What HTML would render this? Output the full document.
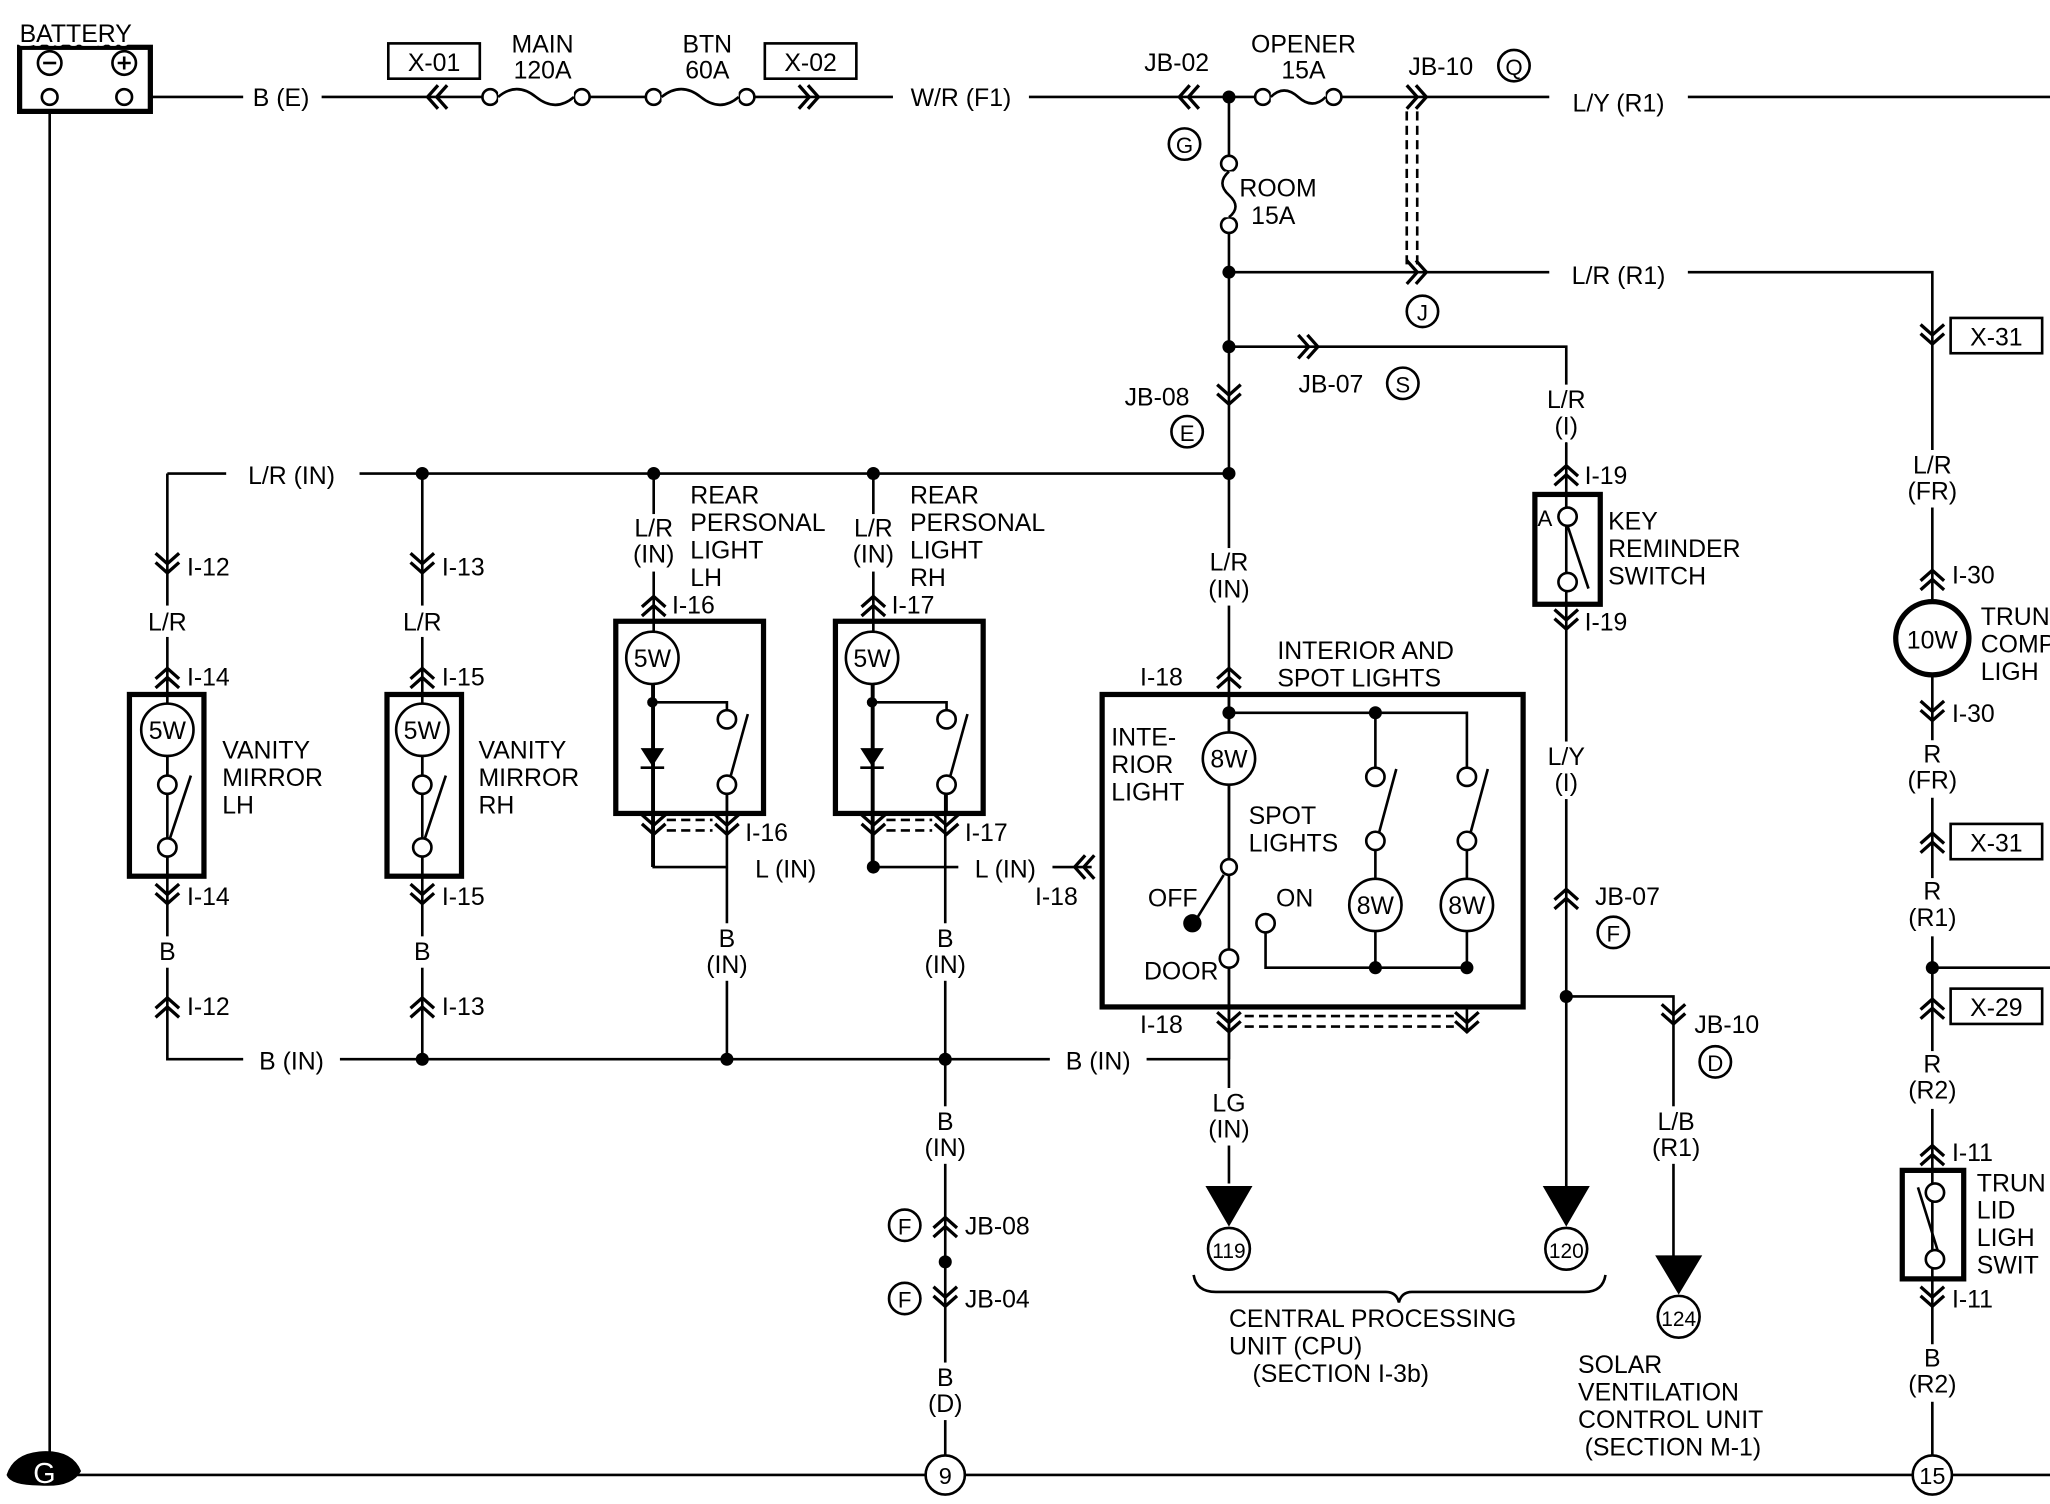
<!DOCTYPE html>
<html><head><meta charset="utf-8"><style>
html,body{margin:0;padding:0;background:#fff;}
svg{display:block;}
text{font-family:"Liberation Sans",sans-serif;font-size:19px;fill:#000;paint-order:stroke;stroke:#fff;stroke-width:6px;stroke-linejoin:round;}
.w{stroke:#000;stroke-width:2;fill:none;}
.t{stroke:#000;stroke-width:4;fill:none;}
.c{stroke:#000;stroke-width:2;fill:#fff;}
.d{fill:#000;}
.m{text-anchor:middle;}
.b{fill:#fff;stroke:none;}
</style></head><body>
<svg width="2050" height="1504" viewBox="0 0 1568 1150" xmlns="http://www.w3.org/2000/svg">
<defs>
<path id="cu" d="M-9 2 L0 -6 L9 2 M-9 9 L0 1 L9 9" stroke="#000" stroke-width="2.5" fill="none"/>
<path id="cd" d="M-9 -2 L0 6 L9 -2 M-9 -9 L0 -1 L9 -9" stroke="#000" stroke-width="2.5" fill="none"/>
<path id="cl" d="M2 -9 L-6 0 L2 9 M9 -9 L1 0 L9 9" stroke="#000" stroke-width="2.5" fill="none"/>
<path id="cr" d="M-2 -9 L6 0 L-2 9 M-9 -9 L-1 0 L-9 9" stroke="#000" stroke-width="2.5" fill="none"/>
</defs>

<!-- wires -->
<path class="w" d="M115 74 H1568"/>
<path class="w" d="M38 85 V1128 H1568"/>
<path class="w" d="M940 74 V810"/>
<path class="w" d="M940 208 H1478 V1128"/>
<path class="w" d="M1478 740 H1568"/>
<path class="w" d="M940 265 H1198 V920"/>
<path class="w" d="M1198 762 H1280 V975"/>
<path class="w" d="M128 362 H940"/>
<path class="w" d="M128 362 V810 H940"/>
<path class="w" d="M323 362 V810"/>
<path class="w" d="M500 362 V663 H556"/>
<path class="w" d="M556 600 V810"/>
<path class="w" d="M668 362 V663 H835"/>
<path class="w" d="M723 600 V1128"/>
<path class="w" d="M940 770 V905"/>
<path class="w" d="M1122 770 V790"/>
<!-- label background gaps -->
<rect class="b" x="186" y="64" width="60" height="20"/>
<rect class="b" x="683" y="64" width="104" height="20"/>
<rect class="b" x="1185" y="64" width="106" height="20"/>
<rect class="b" x="1185" y="198" width="106" height="20"/>
<rect class="b" x="173" y="352" width="102" height="20"/>
<rect class="b" x="186" y="800" width="74" height="20"/>
<rect class="b" x="803" y="800" width="74" height="20"/>
<rect class="b" x="733" y="653" width="72" height="20"/>
<rect class="b" x="112" y="463" width="32" height="24"/>
<rect class="b" x="307" y="463" width="32" height="24"/>
<rect class="b" x="118" y="716" width="20" height="24"/>
<rect class="b" x="313" y="716" width="20" height="24"/>
<rect class="b" x="480" y="393" width="40" height="44"/>
<rect class="b" x="648" y="393" width="40" height="44"/>
<rect class="b" x="536" y="706" width="40" height="44"/>
<rect class="b" x="703" y="706" width="40" height="44"/>
<rect class="b" x="703" y="846" width="40" height="44"/>
<rect class="b" x="703" y="1042" width="40" height="44"/>
<rect class="b" x="920" y="419" width="40" height="44"/>
<rect class="b" x="920" y="832" width="40" height="44"/>
<rect class="b" x="1178" y="294" width="40" height="44"/>
<rect class="b" x="1178" y="567" width="40" height="44"/>
<rect class="b" x="1260" y="846" width="44" height="44"/>
<rect class="b" x="1456" y="344" width="44" height="44"/>
<rect class="b" x="1456" y="566" width="44" height="44"/>
<rect class="b" x="1456" y="672" width="44" height="44"/>
<rect class="b" x="1456" y="804" width="44" height="44"/>
<rect class="b" x="1456" y="1028" width="44" height="44"/>
<!-- dashed -->
<path d="M1076 85 V205 M1084 85 V205" stroke="#000" stroke-width="2" stroke-dasharray="7 4"/>
<path d="M510 627 H545 M510 635 H545 M678 627 H713 M678 635 H713 M952 777 H1112 M952 785 H1112" stroke="#000" stroke-width="2" stroke-dasharray="7 4"/>

<!-- battery -->
<rect x="15" y="36" width="100" height="49" class="t" fill="#fff"/>
<circle cx="38" cy="48" r="9" class="c"/><path class="w" d="M33 48 H43"/>
<circle cx="95" cy="48" r="9" class="c"/><path class="w" d="M90 48 H100 M95 43 V53"/>
<circle cx="38" cy="74" r="6" class="c"/><circle cx="95" cy="74" r="6" class="c"/>
<text x="15" y="32">BATTERY</text>
<!-- ground -->
<path d="M5 1128 Q10 1112 30 1110 Q55 1108 62 1125 Q55 1138 30 1136 Q8 1136 5 1128Z" fill="#000"/>
<text x="34" y="1134" class="m" style="fill:#fff;stroke:none;font-size:22px">G</text>

<!-- top row -->
<text x="215" y="81" class="m">B (E)</text>
<rect x="297" y="33" width="70" height="27" class="c"/><text x="332" y="54" class="m" style="stroke:none">X-01</text>
<use href="#cl" x="333" y="74"/>
<circle cx="375" cy="74" r="6" class="c"/><circle cx="445" cy="74" r="6" class="c"/>
<path d="M381 68 H439 V80 H381Z" fill="#fff"/>
<path class="w" d="M381 74 Q395 62 410 74 Q425 86 439 74"/>
<text x="415" y="40" class="m">MAIN</text><text x="415" y="60" class="m">120A</text>
<circle cx="500" cy="74" r="6" class="c"/><circle cx="571" cy="74" r="6" class="c"/>
<path d="M506 68 H565 V80 H506Z" fill="#fff"/>
<path class="w" d="M506 74 Q521 62 536 74 Q551 86 565 74"/>
<text x="541" y="40" class="m">BTN</text><text x="541" y="60" class="m">60A</text>
<rect x="585" y="33" width="70" height="27" class="c"/><text x="620" y="54" class="m" style="stroke:none">X-02</text>
<use href="#cr" x="620" y="74"/>
<text x="735" y="81" class="m">W/R (F1)</text>
<text x="900" y="54" class="m">JB-02</text>
<use href="#cl" x="908" y="74"/>
<circle cx="906" cy="110" r="12" class="c"/><text x="906" y="117" class="m" style="stroke:none;font-size:17px">G</text>
<circle cx="940" cy="74" r="5" class="d"/>
<circle cx="966" cy="74" r="6" class="c"/><circle cx="1020" cy="74" r="6" class="c"/>
<path d="M972 68 H1014 V80 H972Z" fill="#fff"/>
<path class="w" d="M972 74 Q982 64 993 74 Q1004 84 1014 74"/>
<text x="997" y="40" class="m">OPENER</text><text x="997" y="60" class="m">15A</text>
<text x="1102" y="57" class="m">JB-10</text>
<circle cx="1158" cy="50" r="12" class="c"/><text x="1158" y="57" class="m" style="stroke:none;font-size:17px">Q</text>
<use href="#cr" x="1085" y="74"/>
<text x="1238" y="85" class="m">L/Y (R1)</text>
<!-- ROOM fuse -->
<circle cx="940" cy="125" r="6" class="c"/><circle cx="940" cy="172" r="6" class="c"/>
<path d="M934 131 H946 V166 H934Z" fill="#fff"/>
<path class="w" d="M940 131 Q930 140 940 149 Q950 158 940 166"/>
<text x="948" y="150">ROOM</text><text x="957" y="171">15A</text>
<circle cx="940" cy="208" r="5" class="d"/>
<use href="#cr" x="1085" y="208"/>
<text x="1238" y="217" class="m">L/R (R1)</text>
<circle cx="1088" cy="238" r="12" class="c"/><text x="1088" y="245" class="m" style="stroke:none;font-size:17px">J</text>
<circle cx="940" cy="265" r="5" class="d"/>
<use href="#cr" x="1002" y="265"/>
<text x="1018" y="300" class="m">JB-07</text>
<circle cx="1073" cy="293" r="12" class="c"/><text x="1073" y="300" class="m" style="stroke:none;font-size:17px">S</text>
<text x="885" y="310" class="m">JB-08</text>
<use href="#cd" x="940" y="303"/>
<circle cx="908" cy="330" r="12" class="c"/><text x="908" y="337" class="m" style="stroke:none;font-size:17px">E</text>

<!-- right column -->
<use href="#cd" x="1478" y="257"/>
<rect x="1492" y="243" width="70" height="27" class="c"/><text x="1527" y="264" class="m" style="stroke:none">X-31</text>
<text x="1478" y="362" class="m">L/R</text><text x="1478" y="382" class="m">(FR)</text>
<use href="#cu" x="1478" y="442"/><text x="1493" y="446">I-30</text>
<circle cx="1478" cy="488" r="28" class="c" style="stroke-width:4"/><text x="1478" y="496" class="m" style="stroke:none">10W</text>
<text x="1515" y="478">TRUN</text><text x="1515" y="499">COMP</text><text x="1515" y="520">LIGH</text>
<use href="#cd" x="1478" y="545"/><text x="1493" y="552">I-30</text>
<text x="1478" y="583" class="m">R</text><text x="1478" y="603" class="m">(FR)</text>
<use href="#cu" x="1478" y="643"/>
<rect x="1492" y="630" width="70" height="27" class="c"/><text x="1527" y="651" class="m" style="stroke:none">X-31</text>
<text x="1478" y="688" class="m">R</text><text x="1478" y="708" class="m">(R1)</text>
<circle cx="1478" cy="740" r="5" class="d"/>
<use href="#cu" x="1478" y="770"/>
<rect x="1492" y="756" width="70" height="27" class="c"/><text x="1527" y="777" class="m" style="stroke:none">X-29</text>
<text x="1478" y="820" class="m">R</text><text x="1478" y="840" class="m">(R2)</text>
<use href="#cu" x="1478" y="882"/><text x="1493" y="888">I-11</text>
<rect x="1455" y="895" width="47" height="83" class="t" fill="#fff"/>
<circle cx="1480" cy="912" r="7" class="c"/><circle cx="1480" cy="963" r="7" class="c"/>
<path class="w" d="M1467 908 L1482 956"/>
<text x="1512" y="911">TRUN</text><text x="1512" y="932">LID</text><text x="1512" y="953">LIGH</text><text x="1512" y="974">SWIT</text>
<use href="#cd" x="1478" y="993"/><text x="1493" y="1000">I-11</text>
<text x="1478" y="1045" class="m">B</text><text x="1478" y="1065" class="m">(R2)</text>
<circle cx="1478" cy="1128" r="15" class="c"/><text x="1478" y="1135" class="m" style="stroke:none;font-size:18px">15</text>

<!-- key reminder -->
<text x="1198" y="312" class="m">L/R</text><text x="1198" y="332" class="m">(I)</text>
<use href="#cu" x="1198" y="362"/><text x="1212" y="370">I-19</text>
<rect x="1174" y="378" width="50" height="84" class="t" fill="#fff"/>
<circle cx="1199" cy="395" r="7" class="c"/><circle cx="1199" cy="445" r="7" class="c"/>
<path class="w" d="M1199 402 L1215 450"/>
<text x="1176" y="402" style="stroke:none;font-size:17px">A</text>
<text x="1230" y="405">KEY</text><text x="1230" y="426">REMINDER</text><text x="1230" y="447">SWITCH</text>
<use href="#cd" x="1198" y="475"/><text x="1212" y="482">I-19</text>
<text x="1198" y="585" class="m">L/Y</text><text x="1198" y="605" class="m">(I)</text>
<use href="#cu" x="1198" y="686"/><text x="1220" y="692">JB-07</text>
<circle cx="1234" cy="713" r="12" class="c"/><text x="1234" y="720" class="m" style="stroke:none;font-size:17px">F</text>
<circle cx="1198" cy="762" r="5" class="d"/>
<use href="#cd" x="1280" y="777"/><text x="1296" y="790">JB-10</text>
<circle cx="1312" cy="812" r="12" class="c"/><text x="1312" y="819" class="m" style="stroke:none;font-size:17px">D</text>
<text x="1282" y="864" class="m">L/B</text><text x="1282" y="884" class="m">(R1)</text>
<path d="M1180 907 H1216 L1198 938Z" class="d"/>
<circle cx="1198" cy="955" r="16" class="c"/><text x="1198" y="962" class="m" style="stroke:none;font-size:16px">120</text>
<path d="M1266 960 H1302 L1284 990Z" class="d"/>
<circle cx="1284" cy="1007" r="16" class="c"/><text x="1284" y="1014" class="m" style="stroke:none;font-size:16px">124</text>
<text x="1207" y="1050">SOLAR</text><text x="1207" y="1071">VENTILATION</text><text x="1207" y="1092">CONTROL  UNIT</text><text x="1212" y="1113">(SECTION  M-1)</text>

<!-- L/R (IN) bus -->
<text x="223" y="370" class="m">L/R (IN)</text>
<circle cx="323" cy="362" r="5" class="d"/><circle cx="500" cy="362" r="5" class="d"/><circle cx="668" cy="362" r="5" class="d"/><circle cx="940" cy="362" r="5" class="d"/>

<!-- vanity LH -->
<use href="#cd" x="128" y="432"/><text x="143" y="440">I-12</text>
<text x="128" y="482" class="m">L/R</text>
<use href="#cu" x="128" y="517"/><text x="143" y="524">I-14</text>
<rect x="99" y="531" width="57" height="139" class="t" fill="#fff"/>
<path class="w" d="M128 578 V593 M128 655 V670"/>
<circle cx="128" cy="558" r="20" class="c"/><text x="128" y="565" class="m" style="stroke:none">5W</text>
<circle cx="128" cy="600" r="7" class="c"/><circle cx="128" cy="648" r="7" class="c"/>
<path class="w" d="M146 593 L130 641"/>
<text x="170" y="580">VANITY</text><text x="170" y="601">MIRROR</text><text x="170" y="622">LH</text>
<use href="#cd" x="128" y="685"/><text x="143" y="692">I-14</text>
<text x="128" y="734" class="m">B</text>
<use href="#cu" x="128" y="769"/><text x="143" y="776">I-12</text>
<text x="223" y="818" class="m">B (IN)</text>
<!-- vanity RH -->
<use href="#cd" x="323" y="432"/><text x="338" y="440">I-13</text>
<text x="323" y="482" class="m">L/R</text>
<use href="#cu" x="323" y="517"/><text x="338" y="524">I-15</text>
<rect x="296" y="531" width="57" height="139" class="t" fill="#fff"/>
<path class="w" d="M323 578 V593 M323 655 V670"/>
<circle cx="323" cy="558" r="20" class="c"/><text x="323" y="565" class="m" style="stroke:none">5W</text>
<circle cx="323" cy="600" r="7" class="c"/><circle cx="323" cy="648" r="7" class="c"/>
<path class="w" d="M341 593 L325 641"/>
<text x="366" y="580">VANITY</text><text x="366" y="601">MIRROR</text><text x="366" y="622">RH</text>
<use href="#cd" x="323" y="685"/><text x="338" y="692">I-15</text>
<text x="323" y="734" class="m">B</text>
<use href="#cu" x="323" y="769"/><text x="338" y="776">I-13</text>
<circle cx="323" cy="810" r="5" class="d"/>

<!-- rear LH -->
<text x="500" y="410" class="m">L/R</text><text x="500" y="430" class="m">(IN)</text>
<text x="528" y="385">REAR</text><text x="528" y="406">PERSONAL</text><text x="528" y="427">LIGHT</text><text x="528" y="448">LH</text>
<use href="#cu" x="500" y="462"/><text x="514" y="469">I-16</text>
<rect x="471" y="475" width="113" height="147" class="t" fill="#fff"/>
<path class="w" d="M499 523 V663 M499 537 H556 V543 M556 607 V622"/>
<circle cx="499" cy="503" r="20" class="c"/><text x="499" y="510" class="m" style="stroke:none">5W</text>
<circle cx="499" cy="537" r="4" class="d"/>
<path d="M490 572 H508 L499 586Z" class="d"/><path class="w" d="M490 587 H508"/>
<circle cx="556" cy="550" r="7" class="c"/><circle cx="556" cy="600" r="7" class="c"/>
<path class="w" d="M572 546 L559 593"/>
<use href="#cd" x="500" y="632"/><use href="#cd" x="556" y="632"/><text x="570" y="643">I-16</text>
<text x="601" y="671" class="m">L (IN)</text>
<text x="556" y="724" class="m">B</text><text x="556" y="744" class="m">(IN)</text>
<circle cx="556" cy="810" r="5" class="d"/>
<!-- rear RH -->
<text x="668" y="410" class="m">L/R</text><text x="668" y="430" class="m">(IN)</text>
<text x="696" y="385">REAR</text><text x="696" y="406">PERSONAL</text><text x="696" y="427">LIGHT</text><text x="696" y="448">RH</text>
<use href="#cu" x="668" y="462"/><text x="682" y="469">I-17</text>
<rect x="639" y="475" width="113" height="147" class="t" fill="#fff"/>
<path class="w" d="M667 523 V663 M667 537 H724 V543 M724 607 V622"/>
<circle cx="667" cy="503" r="20" class="c"/><text x="667" y="510" class="m" style="stroke:none">5W</text>
<circle cx="667" cy="537" r="4" class="d"/>
<path d="M658 572 H676 L667 586Z" class="d"/><path class="w" d="M658 587 H676"/>
<circle cx="724" cy="550" r="7" class="c"/><circle cx="724" cy="600" r="7" class="c"/>
<path class="w" d="M740 546 L727 593"/>
<use href="#cd" x="668" y="632"/><use href="#cd" x="724" y="632"/><text x="738" y="643">I-17</text>
<circle cx="668" cy="663" r="5" class="d"/>
<text x="769" y="671" class="m">L (IN)</text>
<use href="#cl" x="828" y="663"/><text x="808" y="692" class="m">I-18</text>
<text x="723" y="724" class="m">B</text><text x="723" y="744" class="m">(IN)</text>
<circle cx="723" cy="810" r="5" class="d"/>
<text x="840" y="818" class="m">B (IN)</text>
<text x="723" y="864" class="m">B</text><text x="723" y="884" class="m">(IN)</text>
<use href="#cu" x="723" y="937"/><text x="738" y="944">JB-08</text>
<circle cx="692" cy="937" r="12" class="c"/><text x="692" y="944" class="m" style="stroke:none;font-size:17px">F</text>
<circle cx="723" cy="965" r="5" class="d"/>
<use href="#cd" x="723" y="993"/><text x="738" y="1000">JB-04</text>
<circle cx="692" cy="993" r="12" class="c"/><text x="692" y="1000" class="m" style="stroke:none;font-size:17px">F</text>
<text x="723" y="1060" class="m">B</text><text x="723" y="1080" class="m">(D)</text>
<circle cx="723" cy="1128" r="15" class="c"/><text x="723" y="1135" class="m" style="stroke:none;font-size:18px">9</text>

<!-- interior box -->
<text x="940" y="436" class="m">L/R</text><text x="940" y="457" class="m">(IN)</text>
<use href="#cu" x="940" y="517"/><text x="872" y="524">I-18</text>
<text x="977" y="504">INTERIOR  AND</text><text x="977" y="525">SPOT  LIGHTS</text>
<rect x="843" y="531" width="322" height="239" class="t" fill="#fff"/>
<path class="w" d="M940 531 V560 M940 600 V657 M940 545 H1122 V587 M1052 545 V587 M1052 650 V672 M1122 650 V672 M968 713 V740 H1122 V712 M1052 712 V740 M940 740 V770"/>
<circle cx="940" cy="545" r="5" class="d"/><circle cx="1052" cy="545" r="5" class="d"/>
<circle cx="940" cy="580" r="20" class="c"/><text x="940" y="587" class="m" style="stroke:none">8W</text>
<text x="850" y="570">INTE-</text><text x="850" y="591">RIOR</text><text x="850" y="612">LIGHT</text>
<text x="955" y="630">SPOT</text><text x="955" y="651">LIGHTS</text>
<circle cx="940" cy="663" r="6" class="c"/>
<path class="w" d="M936 669 L915 703"/>
<circle cx="912" cy="706" r="7" class="d"/><text x="878" y="693">OFF</text>
<circle cx="968" cy="706" r="7" class="c"/><text x="976" y="693">ON</text>
<circle cx="940" cy="733" r="7" class="c"/><text x="875" y="749">DOOR</text>
<circle cx="1052" cy="594" r="7" class="c"/><circle cx="1052" cy="643" r="7" class="c"/>
<path class="w" d="M1068 588 L1055 636"/>
<circle cx="1122" cy="594" r="7" class="c"/><circle cx="1122" cy="643" r="7" class="c"/>
<path class="w" d="M1138 588 L1125 636"/>
<circle cx="1052" cy="692" r="20" class="c"/><text x="1052" y="699" class="m" style="stroke:none">8W</text>
<circle cx="1122" cy="692" r="20" class="c"/><text x="1122" y="699" class="m" style="stroke:none">8W</text>
<circle cx="1052" cy="740" r="5" class="d"/><circle cx="1122" cy="740" r="5" class="d"/>
<use href="#cd" x="940" y="783"/><use href="#cd" x="1122" y="783"/><text x="872" y="790">I-18</text>
<text x="940" y="850" class="m">LG</text><text x="940" y="870" class="m">(IN)</text>
<path d="M922 907 H958 L940 938Z" class="d"/>
<circle cx="940" cy="955" r="16" class="c"/><text x="940" y="962" class="m" style="stroke:none;font-size:16px">119</text>
<path class="w" d="M913 975 Q915 988 930 988 H1060 Q1068 988 1070 996 Q1072 988 1080 988 H1212 Q1226 988 1228 975"/>
<text x="940" y="1015">CENTRAL  PROCESSING</text><text x="940" y="1036">UNIT (CPU)</text><text x="958" y="1057">(SECTION  I-3b)</text>
</svg>
</body></html>
